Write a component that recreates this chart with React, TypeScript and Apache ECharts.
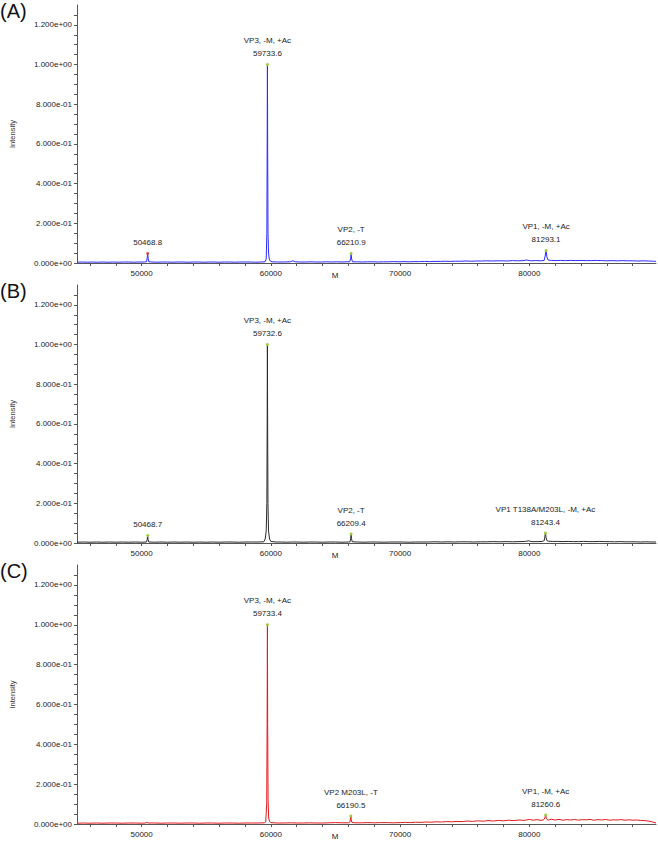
import React, { useEffect, useRef } from "react";
import * as echarts from "echarts";

// ---------- data ----------
const X_MIN = 45000;
const X_MAX = 89800;
const xLabelValues = [50000, 60000, 70000, 80000];
const xTickValues = [46000, 48000, 50000, 52000, 54000, 56000, 58000, 60000, 62000, 64000, 66000, 68000, 70000, 72000, 74000, 76000, 78000, 80000, 82000, 84000, 86000, 88000];
const yLabelValues = [0, 0.2, 0.4, 0.6, 0.8, 1.0, 1.2];
const yTickValues = [0, 0.05, 0.1, 0.15, 0.2, 0.25, 0.3, 0.35, 0.4, 0.45, 0.5, 0.55, 0.6, 0.65, 0.7, 0.75, 0.8, 0.85, 0.9, 0.95, 1.0, 1.05, 1.1, 1.15, 1.2, 1.25];
const panelNames = ["(A)", "(B)", "(C)"];
const yMaxes = [1.3, 1.3, 1.3];
const lineColors = ["#2b2bff", "#2a2a2a", "#e3191c"];

const spectrumA: [number, number][] = [
  [45000, 0.004], [45400, 0.005], [45800, 0.004], [46200, 0.005], [46600, 0.004], [47000, 0.005], [47400, 0.004],
  [47800, 0.005], [48200, 0.004], [48600, 0.005], [49000, 0.005], [49400, 0.004], [49800, 0.005], [50200, 0.005],
  [50380, 0.006], [50440, 0.03], [50468.8, 0.048], [50500, 0.025], [50560, 0.006], [50800, 0.005], [51200, 0.004],
  [51600, 0.005], [52000, 0.005], [52400, 0.004], [52800, 0.005], [53200, 0.005], [53600, 0.004], [54000, 0.005],
  [54400, 0.005], [54800, 0.004], [55200, 0.005], [55600, 0.005], [56000, 0.004], [56400, 0.005], [56800, 0.005],
  [57200, 0.004], [57600, 0.005], [58000, 0.005], [58400, 0.005], [58800, 0.004], [59200, 0.005], [59550, 0.006],
  [59640, 0.02], [59690, 0.15], [59715, 0.6], [59733.6, 1.0], [59755, 0.55], [59780, 0.15], [59820, 0.05],
  [59880, 0.02], [59950, 0.01], [60100, 0.006], [60500, 0.005], [61000, 0.005], [61500, 0.006], [61700, 0.011],
  [61900, 0.006], [62300, 0.005], [62700, 0.005], [63100, 0.006], [63500, 0.005], [63900, 0.005], [64300, 0.006],
  [64700, 0.005], [65100, 0.006], [65500, 0.005], [65900, 0.006], [66100, 0.006], [66170, 0.02], [66210.9, 0.048],
  [66250, 0.02], [66320, 0.006], [66700, 0.006], [67100, 0.005], [67500, 0.006], [67900, 0.006], [68300, 0.005],
  [68700, 0.006], [69100, 0.006], [69500, 0.007], [69900, 0.006], [70300, 0.007], [70700, 0.006], [71100, 0.007],
  [71500, 0.007], [71900, 0.008], [72300, 0.007], [72700, 0.008], [73100, 0.008], [73500, 0.009], [73900, 0.008],
  [74300, 0.009], [74700, 0.009], [75100, 0.01], [75500, 0.009], [75900, 0.01], [76300, 0.01], [76700, 0.011],
  [77100, 0.01], [77500, 0.011], [77900, 0.011], [78300, 0.01], [78700, 0.012], [79100, 0.011], [79500, 0.012],
  [79800, 0.015], [80100, 0.011], [80500, 0.012], [80900, 0.011], [81150, 0.013], [81220, 0.035], [81293.1, 0.063],
  [81360, 0.03], [81450, 0.015], [81700, 0.013], [82000, 0.012], [82400, 0.013], [82800, 0.012], [83200, 0.013],
  [83600, 0.012], [84000, 0.013], [84400, 0.012], [84800, 0.012], [85200, 0.013], [85600, 0.012], [86000, 0.011],
  [86400, 0.012], [86800, 0.011], [87200, 0.012], [87600, 0.011], [88000, 0.011], [88400, 0.01], [88800, 0.011],
  [89200, 0.01], [89600, 0.009], [89800, 0.008],
];

const spectrumB: [number, number][] = [
  [45000, 0.004], [45500, 0.005], [46000, 0.004], [46500, 0.005], [47000, 0.004], [47500, 0.005], [48000, 0.004],
  [48500, 0.005], [49000, 0.004], [49500, 0.005], [50000, 0.004], [50380, 0.005], [50440, 0.02], [50468.7, 0.038],
  [50500, 0.018], [50560, 0.005], [51000, 0.004], [51500, 0.005], [52000, 0.004], [52500, 0.005], [53000, 0.004],
  [53500, 0.005], [54000, 0.004], [54500, 0.005], [55000, 0.004], [55500, 0.005], [56000, 0.004], [56500, 0.005],
  [57000, 0.005], [57500, 0.004], [58000, 0.005], [58500, 0.005], [59000, 0.005], [59450, 0.006], [59560, 0.02],
  [59640, 0.06], [59690, 0.2], [59715, 0.6], [59732.6, 1.0], [59750, 0.6], [59775, 0.2], [59820, 0.06],
  [59900, 0.02], [60000, 0.008], [60400, 0.005], [60800, 0.005], [61200, 0.004], [61600, 0.005], [62000, 0.005],
  [62500, 0.004], [63000, 0.005], [63500, 0.005], [64000, 0.004], [64500, 0.005], [65000, 0.005], [65500, 0.004],
  [66000, 0.005], [66130, 0.006], [66180, 0.025], [66209.4, 0.045], [66240, 0.022], [66300, 0.006], [66700, 0.005],
  [67200, 0.004], [67700, 0.005], [68200, 0.005], [68700, 0.004], [69200, 0.005], [69700, 0.005], [70200, 0.005],
  [70700, 0.004], [71200, 0.005], [71700, 0.005], [72200, 0.005], [72700, 0.006], [73200, 0.005], [73700, 0.006],
  [74200, 0.005], [74700, 0.006], [75200, 0.006], [75700, 0.005], [76200, 0.006], [76700, 0.006], [77200, 0.007],
  [77700, 0.006], [78200, 0.007], [78700, 0.006], [79200, 0.007], [79700, 0.008], [79950, 0.011], [80200, 0.007],
  [80600, 0.007], [81000, 0.008], [81150, 0.012], [81200, 0.03], [81243.4, 0.05], [81290, 0.028], [81360, 0.012],
  [81500, 0.009], [81800, 0.008], [82200, 0.008], [82600, 0.007], [83000, 0.008], [83400, 0.007], [83800, 0.007],
  [84200, 0.008], [84600, 0.007], [85000, 0.007], [85400, 0.008], [85800, 0.007], [86200, 0.007], [86600, 0.006],
  [87000, 0.007], [87400, 0.006], [87800, 0.006], [88200, 0.006], [88600, 0.005], [89000, 0.006], [89400, 0.005],
  [89800, 0.005],
];

const spectrumC: [number, number][] = [
  [45000, 0.004], [45500, 0.005], [46000, 0.004], [46500, 0.005], [47000, 0.004], [47500, 0.005], [48000, 0.005],
  [48500, 0.004], [49000, 0.005], [49500, 0.005], [50000, 0.004], [50300, 0.005], [50420, 0.009], [50480, 0.005],
  [51000, 0.005], [51500, 0.004], [52000, 0.005], [52500, 0.005], [53000, 0.004], [53500, 0.005], [54000, 0.005],
  [54500, 0.004], [55000, 0.005], [55500, 0.005], [56000, 0.004], [56500, 0.005], [57000, 0.005], [57500, 0.004],
  [58000, 0.005], [58500, 0.005], [59000, 0.005], [59500, 0.006], [59600, 0.01], [59680, 0.1], [59710, 0.5],
  [59733.4, 1.0], [59755, 0.5], [59785, 0.12], [59830, 0.03], [59900, 0.012], [60000, 0.007], [60500, 0.005],
  [61000, 0.005], [61500, 0.006], [62000, 0.005], [62500, 0.005], [63000, 0.006], [63500, 0.005], [64000, 0.005],
  [64500, 0.006], [65000, 0.007], [65500, 0.006], [66000, 0.006], [66120, 0.01], [66160, 0.025], [66190.5, 0.04],
  [66220, 0.022], [66270, 0.008], [66500, 0.006], [67000, 0.006], [67500, 0.007], [68000, 0.006], [68500, 0.007],
  [69000, 0.007], [69500, 0.006], [70000, 0.007], [70400, 0.008], [70800, 0.007], [71200, 0.009], [71600, 0.008],
  [72000, 0.01], [72400, 0.009], [72800, 0.011], [73200, 0.01], [73600, 0.012], [74000, 0.011], [74400, 0.013],
  [74800, 0.012], [75200, 0.015], [75600, 0.013], [76000, 0.016], [76400, 0.014], [76800, 0.017], [77200, 0.015],
  [77600, 0.018], [78000, 0.016], [78400, 0.019], [78800, 0.017], [79200, 0.02], [79600, 0.018], [80000, 0.023],
  [80300, 0.019], [80600, 0.022], [80900, 0.018], [81100, 0.021], [81200, 0.03], [81260.6, 0.045], [81320, 0.026],
  [81450, 0.019], [81700, 0.024], [82000, 0.02], [82300, 0.023], [82600, 0.019], [82900, 0.022], [83200, 0.02],
  [83500, 0.023], [83800, 0.019], [84100, 0.022], [84400, 0.021], [84700, 0.023], [85000, 0.019], [85300, 0.022],
  [85600, 0.02], [85900, 0.023], [86200, 0.019], [86500, 0.021], [86800, 0.02], [87100, 0.022], [87400, 0.019],
  [87700, 0.021], [88000, 0.019], [88300, 0.02], [88600, 0.018], [88900, 0.017], [89200, 0.015], [89500, 0.011],
  [89800, 0.005],
];

const peakMassesA = [50468.8, 59733.6, 66210.9, 81293.1];
const peakHeightsA = [0.048, 1.0, 0.048, 0.063];
const peakNamesA = ["", "VP3, -M, +Ac", "VP2, -T", "VP1, -M, +Ac"];
const peakMassesB = [50468.7, 59732.6, 66209.4, 81243.4];
const peakHeightsB = [0.038, 1.0, 0.045, 0.05];
const peakNamesB = ["", "VP3, -M, +Ac", "VP2, -T", "VP1 T138A/M203L, -M, +Ac"];
const peakMassesC = [59733.4, 66190.5, 81260.6];
const peakHeightsC = [1.0, 0.04, 0.045];
const peakNamesC = ["VP3, -M, +Ac", "VP2 M203L, -T", "VP1, -M, +Ac"];

// ---------- layout ----------
const FONT = "'Liberation Sans', Arial, sans-serif";
const GRID_LEFT = 74;
const GRID_WIDTH = 582;
const gridTops = [5, 285, 565];
const gridHeights = [258, 258, 259];

const fmtExp = (v: number) => {
  const s = Number(v).toExponential(3);
  const [m, e] = s.split("e");
  const sign = e[0];
  const d = e.slice(1).padStart(2, "0");
  return `${m}e${sign}${d}`;
};

const App: React.FC = () => {
  const ref = useRef<HTMLDivElement>(null);

  useEffect(() => {
    if (!ref.current) return;
    const chart = echarts.init(ref.current, undefined, { renderer: "svg" });

    const spectra = [spectrumA, spectrumB, spectrumC];
    const peaks = [
      { m: peakMassesA, h: peakHeightsA, n: peakNamesA },
      { m: peakMassesB, h: peakHeightsB, n: peakNamesB },
      { m: peakMassesC, h: peakHeightsC, n: peakNamesC },
    ];

    const grids = gridTops.map((t, i) => ({
      left: GRID_LEFT,
      top: t,
      width: GRID_WIDTH,
      height: gridHeights[i],
      containLabel: false,
    }));

    const xAxes = gridTops.map((_, i) => ({
      type: "value",
      gridIndex: i,
      min: X_MIN,
      max: X_MAX,
      axisLine: { show: true, lineStyle: { color: "#555", width: 1 } },
      axisTick: { show: true, customValues: xTickValues, length: 3, lineStyle: { color: "#555" } },
      axisLabel: {
        show: true,
        customValues: xLabelValues,
        fontSize: 8,
        fontFamily: FONT,
        color: "#222",
        margin: 6,
        formatter: (v: number) => String(v),
      },
      splitLine: { show: false },
    }));

    const yAxes = gridTops.map((_, i) => ({
      type: "value",
      gridIndex: i,
      min: 0,
      max: yMaxes[i],
      name: "Intensity",
      nameLocation: "middle",
      nameRotate: 90,
      nameGap: 61,
      nameTextStyle: { fontSize: 7.5, fontFamily: FONT, color: "#333" },
      axisLine: { show: true, lineStyle: { color: "#555", width: 1 } },
      axisTick: { show: true, customValues: yTickValues, length: 3, lineStyle: { color: "#555" } },
      axisLabel: {
        show: true,
        customValues: yLabelValues,
        fontSize: 8,
        fontFamily: FONT,
        color: "#222",
        margin: 5,
        formatter: (v: number) => fmtExp(v),
      },
      splitLine: { show: false },
    }));

    const series = spectra.map((data, i) => ({
      type: "line",
      xAxisIndex: i,
      yAxisIndex: i,
      data,
      showSymbol: false,
      symbol: "none",
      lineStyle: { color: lineColors[i], width: 1 },
      itemStyle: { color: lineColors[i] },
      z: 3,
      markPoint: {
        symbol: "circle",
        symbolSize: 3,
        silent: true,
        itemStyle: { color: "#9acd32" },
        label: {
          show: true,
          position: "top",
          distance: 3,
          fontSize: 8,
          lineHeight: 13,
          fontFamily: FONT,
          color: "#222",
          align: "center",
        },
        data: peaks[i].m.map((m, k) => ({
          coord: [m, peaks[i].h[k]],
          itemStyle: { color: i === 0 && k === 0 ? "#e0403a" : "#9acd32" },
          label: {
            formatter: peaks[i].n[k] ? `${peaks[i].n[k]}\n${m.toFixed(1)}` : m.toFixed(1),
          },
        })),
      },
    }));

    const graphic: any[] = [];
    panelNames.forEach((p, i) => {
      graphic.push({
        type: "text",
        left: 0,
        top: gridTops[i] - 4,
        style: { text: p, fontSize: 20, fontFamily: FONT, fill: "#111" },
      });
      graphic.push({
        type: "text",
        x: 335,
        y: gridTops[i] + gridHeights[i] + 12,
        style: { text: "M", fontSize: 8, fontFamily: FONT, fill: "#222", align: "center", verticalAlign: "middle" },
      });
    });

    chart.setOption({
      animation: false,
      backgroundColor: "#ffffff",
      grid: grids,
      xAxis: xAxes,
      yAxis: yAxes,
      series,
      graphic,
    } as any);

    return () => chart.dispose();
  }, []);

  return (
    <div
      ref={ref}
      style={{ position: "absolute", left: 0, top: 0, width: 658, height: 843, background: "#fff" }}
    />
  );
};

export default App;
